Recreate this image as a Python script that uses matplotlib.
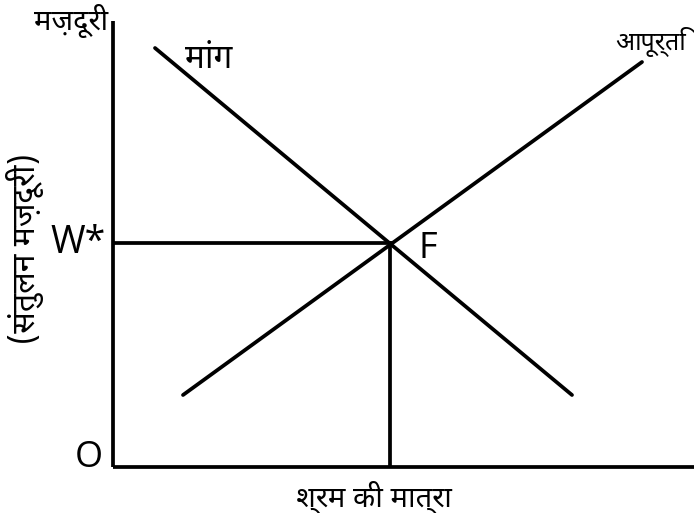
import matplotlib
matplotlib.use("Agg")
import matplotlib.pyplot as plt
from matplotlib import font_manager

# a Devanagari font, if one is installed
deva = None
wanted = ["NotoSansDevanagari-Regular", "NotoSansDevanagariUI-Regular",
          "Mukta-Regular", "Hind-Regular", "NotoSansDevanagari"]
files = font_manager.findSystemFonts()
for w in wanted:
    for f in files:
        if w in f:
            deva = f
            break
    if deva:
        break
if deva:
    font_manager.fontManager.addfont(deva)
    dfam = font_manager.FontProperties(fname=deva).get_name()
else:
    dfam = "DejaVu Sans"
fam = [dfam, "DejaVu Sans"]

# data (origin O at 0,0)
demand_q = [42, 459]
demand_w = [419, 72]
supply_q = [70, 529]
supply_w = [72, 405]
eq_q = 277
eq_w = 224
x_max = 581
y_max = 446

fig = plt.figure(figsize=(6.94, 5.13), dpi=100)
ax = fig.add_axes([113 / 694, 46 / 513, 581 / 694, 446 / 513])
ax.set_xlim(0, x_max)
ax.set_ylim(0, y_max)
ax.axis("off")

lw = 2.7
ax.plot([0, x_max], [0, 0], color="black", lw=lw, clip_on=False, solid_capstyle="butt")
ax.plot([0, 0], [0, y_max], color="black", lw=lw, clip_on=False, solid_capstyle="butt")
ax.plot(demand_q, demand_w, color="black", lw=lw, solid_capstyle="round")
ax.plot(supply_q, supply_w, color="black", lw=lw, solid_capstyle="round", clip_on=False)
ax.plot([0, eq_q], [eq_w, eq_w], color="black", lw=lw)
ax.plot([eq_q, eq_q], [0, eq_w], color="black", lw=lw)

# labels
ax.text(-5, 446, "मज़दूरी", family=fam, fontsize=21, ha="right", va="center", clip_on=False)
ax.text(72, 409, "मांग", family=fam, fontsize=24, ha="left", va="center")
ax.text(502, 425, "आपूर्ति", family=fam, fontsize=18, ha="left", va="center", clip_on=False)
ax.text(305, 218, "F", family="Open Sans", fontsize=26, ha="left", va="center")
ax.text(-7, eq_w, "W*", family="Open Sans", fontsize=27, ha="right", va="center")
ax.text(-10, 9, "O", family="Open Sans", fontsize=26, ha="right", va="center")
ax.text(-88, 218, "(संतुलन मज़दूरी)", family=fam, fontsize=23, rotation=90,
        ha="center", va="center")
ax.text(261, -30, "श्रम की मात्रा", family=fam, fontsize=21, ha="center", va="center")

fig.savefig("out.png", dpi=100)
